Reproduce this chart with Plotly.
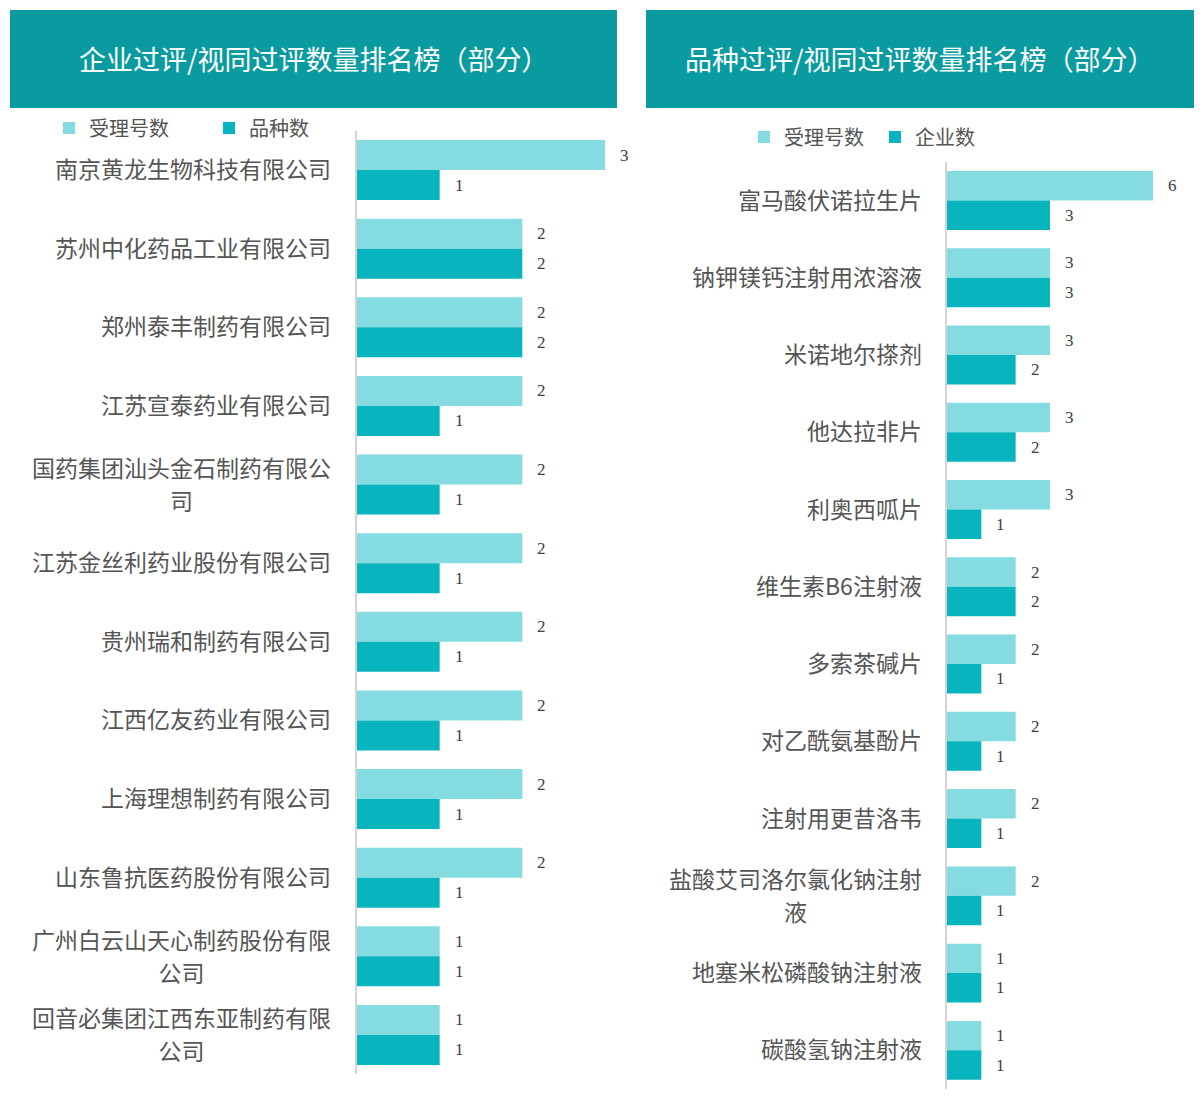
import plotly.graph_objects as go

W, H = 1204, 1100

# ---------------- data ----------------
left_title = "企业过评/视同过评数量排名榜（部分）"
right_title = "品种过评/视同过评数量排名榜（部分）"

left_categories = [
    "南京黄龙生物科技有限公司",
    "苏州中化药品工业有限公司",
    "郑州泰丰制药有限公司",
    "江苏宣泰药业有限公司",
    "国药集团汕头金石制药有限公<br>司",
    "江苏金丝利药业股份有限公司",
    "贵州瑞和制药有限公司",
    "江西亿友药业有限公司",
    "上海理想制药有限公司",
    "山东鲁抗医药股份有限公司",
    "广州白云山天心制药股份有限<br>公司",
    "回音必集团江西东亚制药有限<br>公司",
]
left_accept = [3, 2, 2, 2, 2, 2, 2, 2, 2, 2, 1, 1]   # 受理号数
left_variety = [1, 2, 2, 1, 1, 1, 1, 1, 1, 1, 1, 1]  # 品种数

right_categories = [
    "富马酸伏诺拉生片",
    "钠钾镁钙注射用浓溶液",
    "米诺地尔搽剂",
    "他达拉非片",
    "利奥西呱片",
    "维生素B6注射液",
    "多索茶碱片",
    "对乙酰氨基酚片",
    "注射用更昔洛韦",
    "盐酸艾司洛尔氯化钠注射<br>液",
    "地塞米松磷酸钠注射液",
    "碳酸氢钠注射液",
]
right_accept = [6, 3, 3, 3, 3, 2, 2, 2, 2, 2, 1, 1]   # 受理号数
right_company = [3, 3, 2, 2, 1, 2, 1, 1, 1, 1, 1, 1]  # 企业数

# ---------------- style ----------------
LIGHT = "#84dbe0"
DARK = "#08b5be"
HEAD = "#0a9ba0"
CJK = "Noto Sans CJK SC"
NUM = "Liberation Serif"
LABEL_C = "#555555"
VAL_C = "#404040"
LABEL_SIZE = 23


def px_x(p):
    return p / W


def px_y(p):
    return 1 - p / H


fig = go.Figure()

fig.add_trace(go.Bar(y=left_categories, x=left_accept, orientation="h", name="受理号数",
                     marker=dict(color=LIGHT, line=dict(width=0)), xaxis="x", yaxis="y",
                     legend="legend", hoverinfo="x+y"))
fig.add_trace(go.Bar(y=left_categories, x=left_variety, orientation="h", name="品种数",
                     marker=dict(color=DARK, line=dict(width=0)), xaxis="x", yaxis="y",
                     legend="legend", hoverinfo="x+y"))
fig.add_trace(go.Bar(y=right_categories, x=right_accept, orientation="h", name="受理号数",
                     marker=dict(color=LIGHT, line=dict(width=0)), xaxis="x2", yaxis="y2",
                     legend="legend2", hoverinfo="x+y"))
fig.add_trace(go.Bar(y=right_categories, x=right_company, orientation="h", name="企业数",
                     marker=dict(color=DARK, line=dict(width=0)), xaxis="x2", yaxis="y2",
                     legend="legend2", hoverinfo="x+y"))

annotations = []
# category labels (multi-line ones centred under the first line)
for cats, xr, yr, shift in [(left_categories, "x", "y", -24), (right_categories, "x2", "y2", -23)]:
    for c in cats:
        lines = c.split("<br>")
        if len(lines) == 1:
            annotations.append(dict(x=0, y=c, xref=xr, yref=yr, text=c, showarrow=False,
                                    xanchor="right", yanchor="middle", xshift=shift, yshift=2,
                                    font=dict(family=CJK, size=LABEL_SIZE, color=LABEL_C)))
        else:
            box_w = len(lines[0]) * LABEL_SIZE + 2
            for i, ln in enumerate(lines):
                annotations.append(dict(x=0, y=c, xref=xr, yref=yr, text=ln, showarrow=False,
                                        xanchor="right", yanchor="middle", align="center",
                                        width=box_w, xshift=shift + 1,
                                        yshift=17.5 if i == 0 else -15.5,
                                        font=dict(family=CJK, size=LABEL_SIZE, color=LABEL_C)))

# value labels
for cats, a_vals, b_vals, xr, yr, ys in [
    (left_categories, left_accept, left_variety, "x", "y", 15),
    (right_categories, right_accept, right_company, "x2", "y2", 14.8),
]:
    for c, a, b in zip(cats, a_vals, b_vals):
        annotations.append(dict(x=a, y=c, xref=xr, yref=yr, text=str(a), showarrow=False,
                                xanchor="left", yanchor="middle", xshift=13, yshift=ys,
                                font=dict(family=NUM, size=17, color=VAL_C)))
        annotations.append(dict(x=b, y=c, xref=xr, yref=yr, text=str(b), showarrow=False,
                                xanchor="left", yanchor="middle", xshift=13, yshift=-ys,
                                font=dict(family=NUM, size=17, color=VAL_C)))

# titles
for title, x0, x1 in [(left_title, 10, 617), (right_title, 646, 1194)]:
    annotations.append(dict(x=px_x((x0 + x1) / 2), y=px_y(59), xref="paper", yref="paper",
                            text=title, showarrow=False, xanchor="center", yanchor="middle",
                            font=dict(family=CJK, size=27, color="white")))

shapes = [
    dict(type="rect", xref="paper", yref="paper", x0=px_x(10), x1=px_x(617),
         y0=px_y(108), y1=px_y(10), fillcolor=HEAD, line=dict(width=0), layer="below"),
    dict(type="rect", xref="paper", yref="paper", x0=px_x(646), x1=px_x(1194),
         y0=px_y(108), y1=px_y(10), fillcolor=HEAD, line=dict(width=0), layer="below"),
]

left_unit = 82.67
right_unit = 34.33

fig.update_layout(
    width=W, height=H,
    margin=dict(l=0, r=0, t=0, b=0),
    paper_bgcolor="white", plot_bgcolor="rgba(0,0,0,0)",
    barmode="group", bargap=0.237, bargroupgap=0,
    xaxis=dict(domain=[px_x(357), px_x(617)], range=[0, 260 / left_unit], visible=False,
               anchor="y"),
    yaxis=dict(domain=[px_y(1074.3), px_y(130.7)], autorange="reversed", type="category",
               showticklabels=False, showgrid=False, zeroline=False, ticks="",
               showline=True, linecolor="#d4d4d4", linewidth=2, anchor="x"),
    xaxis2=dict(domain=[px_x(947), px_x(1194)], range=[0, 247 / right_unit], visible=False,
                anchor="y2"),
    yaxis2=dict(domain=[px_y(1089), px_y(161.9)], autorange="reversed", type="category",
                showticklabels=False, showgrid=False, zeroline=False, ticks="",
                showline=True, linecolor="#d4d4d4", linewidth=2, anchor="x2"),
    legend=dict(orientation="h", x=px_x(49), y=px_y(128), xanchor="left", yanchor="middle",
                font=dict(family=CJK, size=20, color=LABEL_C), bgcolor="rgba(0,0,0,0)",
                entrywidth=115, traceorder="normal"),
    legend2=dict(orientation="h", x=px_x(744), y=px_y(137), xanchor="left", yanchor="middle",
                 font=dict(family=CJK, size=20, color=LABEL_C), bgcolor="rgba(0,0,0,0)",
                 entrywidth=86, traceorder="normal"),
    annotations=annotations,
    shapes=shapes,
    showlegend=True,
)

fig.write_html("out.html")
